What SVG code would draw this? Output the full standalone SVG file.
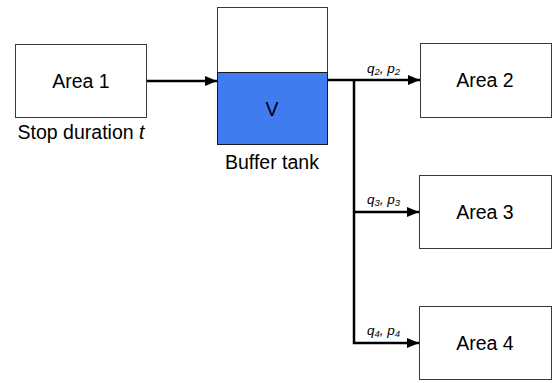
<svg xmlns="http://www.w3.org/2000/svg" width="552" height="383" viewBox="0 0 552 383">
<style>
.box{fill:#fff;stroke:#3a3a3a;stroke-width:1}
.t{font-family:"Liberation Sans",Arial,sans-serif;font-size:19.5px;fill:#000;text-anchor:middle}
.s{font-family:"Liberation Sans",Arial,sans-serif;font-size:13.5px;font-style:italic;fill:#000}
.sub{font-size:9.5px}
.c{fill:none;stroke:#000;stroke-width:2.5}
</style>
<defs>
<marker id="ah" markerWidth="12" markerHeight="10" refX="12" refY="5" orient="auto" markerUnits="userSpaceOnUse">
<path d="M0,0 L12,5 L0,10 Z" fill="#000"/>
</marker>
</defs>
<g id="connectors">
<line class="c" x1="146" y1="81" x2="217" y2="81" marker-end="url(#ah)"/>
<line class="c" x1="327" y1="80" x2="420" y2="80" marker-end="url(#ah)"/>
<polyline class="c" points="354,80 354,343 419,343" marker-end="url(#ah)"/>
<line class="c" x1="354" y1="212" x2="419" y2="212" marker-end="url(#ah)"/>
</g>
<g id="area1">
<rect class="box" x="15.5" y="44.5" width="131" height="73"/>
<text class="t" x="81" y="88">Area 1</text>
<text class="t" x="81" y="139">Stop duration <tspan font-style="italic">t</tspan></text>
</g>
<g id="tank">
<rect class="box" x="217.5" y="7.5" width="110" height="65"/>
<rect x="217.5" y="72.5" width="110" height="72" fill="#3f7cf0" stroke="#1a1a1a" stroke-width="1"/>
<text class="t" x="272" y="116">V</text>
<text class="t" x="272" y="169">Buffer tank</text>
</g>
<g id="area2">
<rect class="box" x="420.5" y="43.5" width="131" height="74"/>
<text class="t" x="485" y="87">Area 2</text>
</g>
<g id="area3">
<rect class="box" x="419.5" y="175.5" width="132" height="73"/>
<text class="t" x="485" y="219">Area 3</text>
</g>
<g id="area4">
<rect class="box" x="419.5" y="306.5" width="132" height="73"/>
<text class="t" x="485" y="350">Area 4</text>
</g>
<g id="labels">
<text class="s" x="367" y="73">q<tspan class="sub" dy="2">2</tspan><tspan dy="-2">, p</tspan><tspan class="sub" dy="2">2</tspan></text>
<text class="s" x="367" y="204">q<tspan class="sub" dy="2">3</tspan><tspan dy="-2">, p</tspan><tspan class="sub" dy="2">3</tspan></text>
<text class="s" x="367" y="335">q<tspan class="sub" dy="2">4</tspan><tspan dy="-2">, p</tspan><tspan class="sub" dy="2">4</tspan></text>
</g>
</svg>
